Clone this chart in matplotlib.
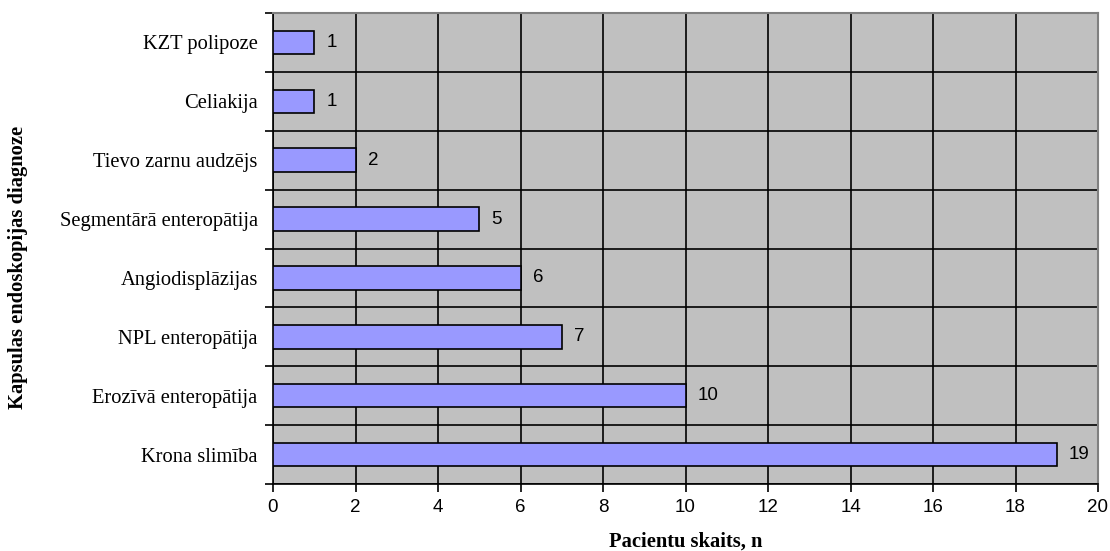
import matplotlib
matplotlib.use("Agg")
import matplotlib.pyplot as plt
import numpy as np

# data (bottom to top as drawn)
categories = ["Krona slimība", "Erozīvā enteropātija", "NPL enteropātija",
              "Angiodisplāzijas", "Segmentārā enteropātija", "Tievo zarnu audzējs",
              "Celiakija", "KZT polipoze"]
counts = [19, 10, 7, 6, 5, 2, 1, 1]
x_ticks = list(range(0, 21, 2))

serif = ["Liberation Serif", "DejaVu Serif"]
sans = ["Liberation Sans", "DejaVu Sans"]

fig = plt.figure(figsize=(11.1, 5.51), dpi=100)
ax = fig.add_axes([273 / 1110, 1 - 484 / 551, (1098 - 273) / 1110, (484 - 13) / 551])
ax.set_facecolor("#C0C0C0")

y = np.arange(len(categories))
ax.barh(y, counts, height=0.4, color="#9999FF", edgecolor="black", linewidth=1.2, zorder=3)

for yi, v in zip(y, counts):
    ax.text(v + 0.3, yi, str(v), va="center", ha="left", fontsize=13.5, family=sans, zorder=4)

ax.set_xlim(0, 20)
ax.set_ylim(-0.5, len(categories) - 0.5)
ax.set_xticks(x_ticks)
ax.set_xticklabels([str(t) for t in x_ticks], family=sans, fontsize=13.5)
ax.set_yticks(y)
ax.set_yticklabels(categories, family=serif, fontsize=14.8)
ax.set_yticks(np.arange(-0.5, len(categories)), minor=True)

ax.tick_params(axis="y", which="major", length=0, pad=11)
ax.tick_params(axis="y", which="minor", length=6, width=1.2, direction="out")
ax.tick_params(axis="x", which="major", length=6, width=1.2, direction="out", pad=5)

ax.grid(axis="x", which="major", color="black", linewidth=1.2, zorder=1)
ax.grid(axis="y", which="minor", color="black", linewidth=1.2, zorder=1)
ax.set_axisbelow(True)

for s in ["top", "right"]:
    ax.spines[s].set_color("#808080")
    ax.spines[s].set_linewidth(1.5)
for s in ["left", "bottom"]:
    ax.spines[s].set_color("black")
    ax.spines[s].set_linewidth(1.2)

ax.set_xlabel("Pacientu skaits, n", family=serif, fontsize=14.8, fontweight="bold", labelpad=11)
fig.text(18 / 1110, 1 - 267 / 551, "Kapsulas endoskopijas diagnoze", rotation=90, va="center",
         ha="center", family=serif, fontsize=14.8, fontweight="bold")

fig.savefig("out.png", dpi=100)
